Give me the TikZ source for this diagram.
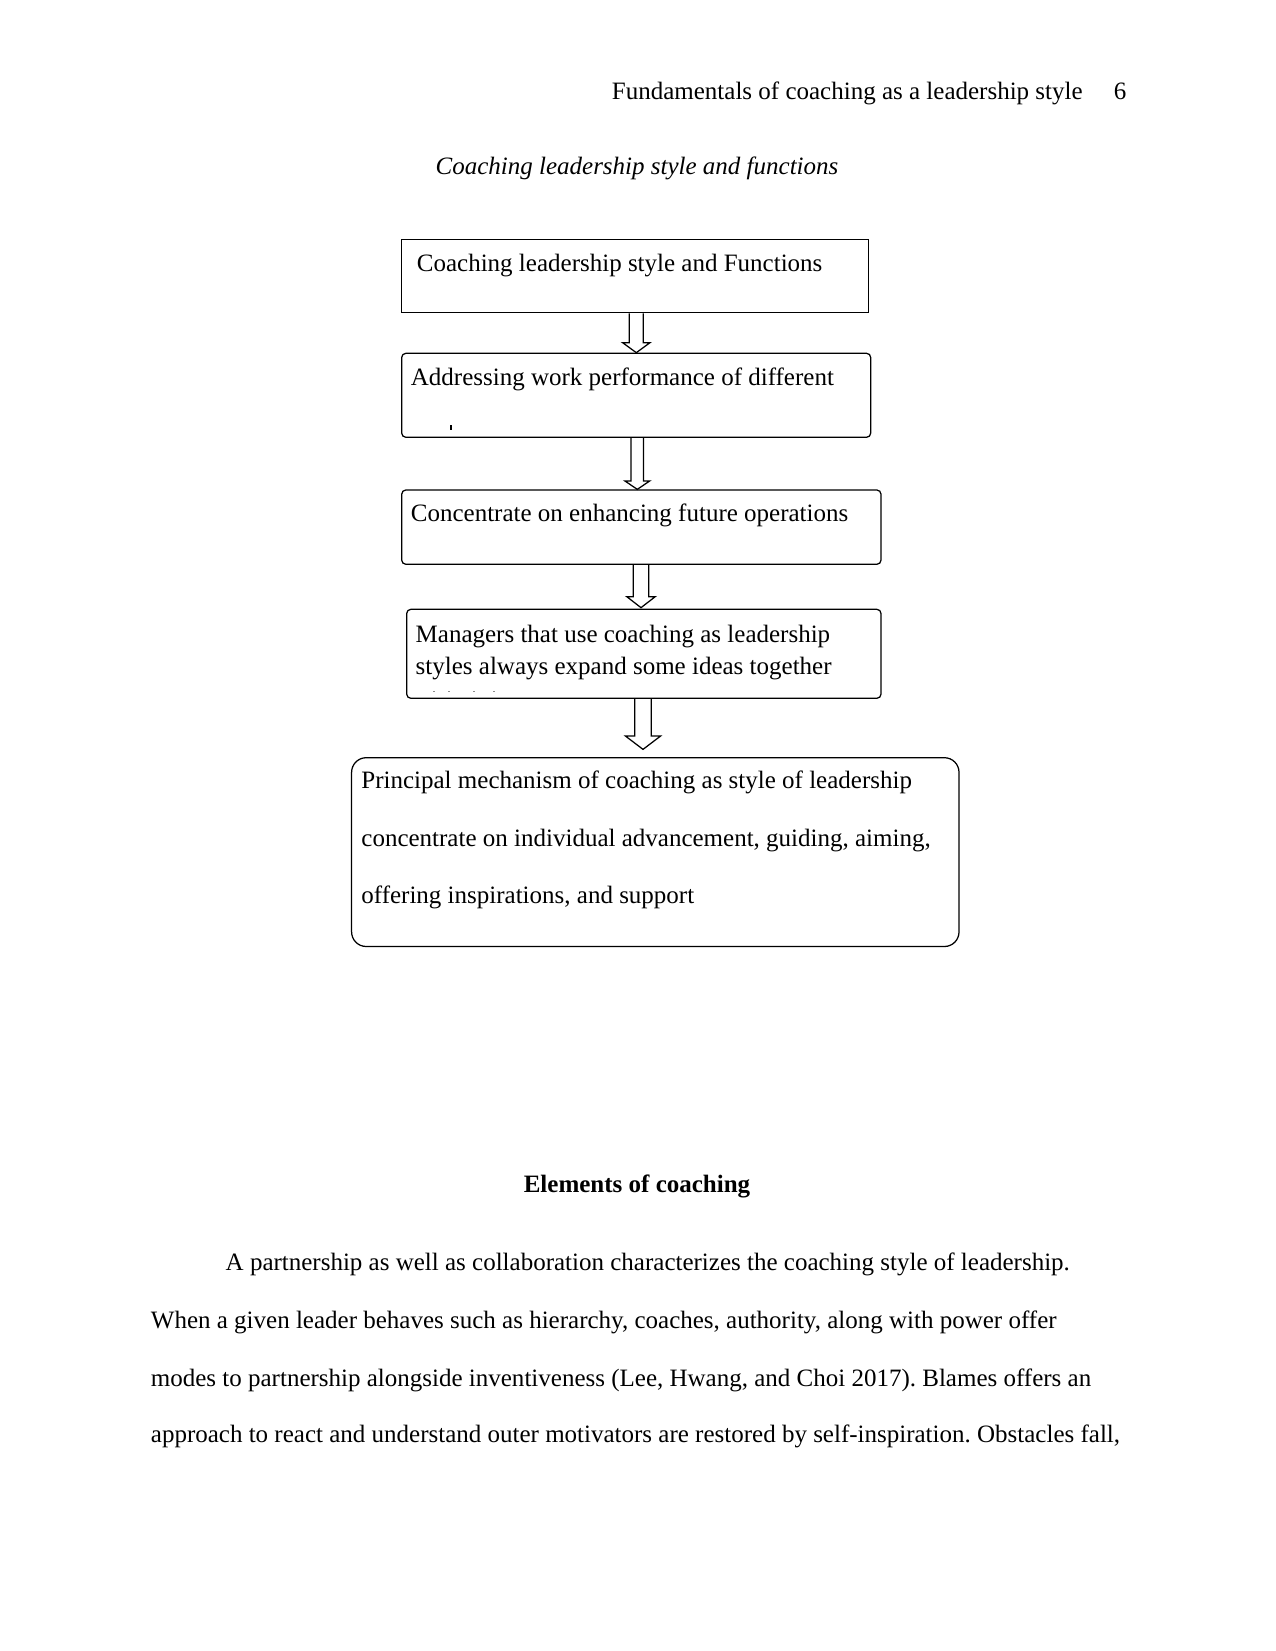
\documentclass[tikz,border=0pt]{standalone}
\usepackage{fontspec}
\setmainfont{Liberation Serif}
\usetikzlibrary{fit,calc}
\frenchspacing
\tikzset{
  box/.style={draw=black, line width=0.6pt, inner sep=0pt},
  sqbox/.style={box, sharp corners},
  rbox/.style={box, rounded corners=2pt},
  bigbox/.style={box, rounded corners=7pt},
  txt/.style={anchor=base west, inner sep=0pt, font=\fontsize{12}{14}\selectfont},
  ctxt/.style={anchor=base, inner sep=0pt, font=\fontsize{12}{14}\selectfont},
  arrowline/.style={draw=black, line width=0.6pt, line join=miter},
}
% block arrow: #1 src, #2 dst, #3 centre x (px), #4 shaft half, #5 head half, #6 head length, #7 gap at tip
\newcommand\blkarrow[7]{%
  \draw[arrowline] let \p1=(#1.south), \p2=(#2.north) in
   ({(#3-#4)*0.48pt},\y1) -- ({(#3-#4)*0.48pt},{\y2+(#6+#7)*0.48pt})
   -- ({(#3-#5)*0.48pt},{\y2+(#6+#7)*0.48pt}) -- ({#3*0.48pt},{\y2+#7*0.48pt})
   -- ({(#3+#5)*0.48pt},{\y2+(#6+#7)*0.48pt}) -- ({(#3+#4)*0.48pt},{\y2+(#6+#7)*0.48pt})
   -- ({(#3+#4)*0.48pt},\y1);
}
\begin{document}
\begin{tikzpicture}[x=0.48pt, y=-0.48pt]
\useasboundingbox[fill=white] (0,0) rectangle (1275,1651);

% header
\node[txt] (hdr) at (611.5,99.5) {Fundamentals of coaching as a leadership style};
\node[txt] (pg) at (1113.5,99.5) {6};
\node[ctxt] (cap) at (637,174.8) {\itshape Coaching leadership style and functions};

% boxes
\node[sqbox, fit={(401.7,239.3)(868.6,312.7)}] (b1) {};
\node[rbox, fit={(401.7,353.3)(870.7,437.3)}] (b2) {};
\node[rbox, fit={(401.7,490)(881,564.3)}] (b3) {};
\node[rbox, fit={(406.7,609.3)(881,698.3)}] (b4) {};
\node[bigbox, fit={(351.6,757.7)(959,946.5)}] (b5) {};

% box texts
\node[txt] (t1) at (416.5,271) {Coaching leadership style and Functions};
\node[txt] (t2) at (410.5,385.5) {Addressing work performance of different};
\fill[black] (450.3,425) rectangle (452,429.5);
\node[txt] (t3) at (410.5,521.5) {Concentrate on enhancing future operations};
\node[txt] (t4a) at (415.3,642) {Managers that use coaching as leadership};
\node[txt] (t4b) at (415.3,674.8) {styles always expand some ideas together};
\foreach \xx in {433,448,473,493} \fill[black!45] (\xx,690.7) rectangle ++(1.6,1.6);
\node[txt] (t5a) at (361,788.5) {Principal mechanism of coaching as style of leadership};
\node[txt] (t5b) at (361,846) {concentrate on individual advancement, guiding, aiming,};
\node[txt] (t5c) at (361,903) {offering inspirations, and support};

% arrows
\blkarrow{b1}{b2}{636.3}{7}{13.7}{10}{0}
\blkarrow{b2}{b3}{637.3}{6.2}{12.5}{8.5}{0}
\blkarrow{b3}{b4}{641}{7.8}{14.2}{11}{1}
\blkarrow{b4}{b5}{643}{8.2}{17.5}{13.3}{7.7}

% section heading and paragraph
\node[ctxt] (sec) at (637,1192.5) {\bfseries Elements of coaching};
\node[txt] (p1) at (225.3,1270.5) {A partnership as well as collaboration characterizes the coaching style of leadership.};
\node[txt] (p2) at (150.5,1328.3) {When a given leader behaves such as hierarchy, coaches, authority, along with power offer};
\node[txt] (p3) at (150.5,1386) {modes to partnership alongside inventiveness (Lee, Hwang, and Choi 2017). Blames offers an};
\node[txt] (p4) at (150.5,1442.8) {approach to react and understand outer motivators are restored by self-inspiration. Obstacles fall,};
\end{tikzpicture}
\end{document}
